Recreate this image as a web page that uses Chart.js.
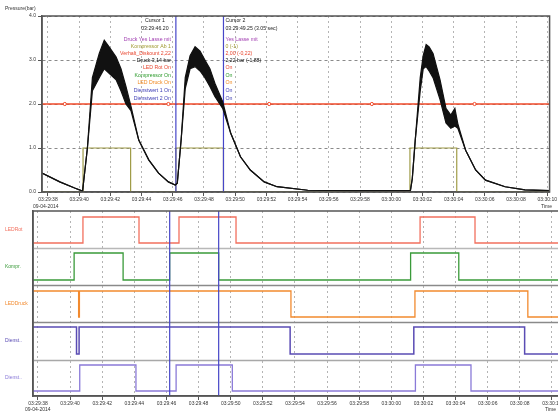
<!DOCTYPE html>
<html><head><meta charset="utf-8">
<script src="https://cdn.jsdelivr.net/npm/chart.js@4.4.0/dist/chart.umd.min.js"></script>
<style>
html,body{margin:0;padding:0;background:#fff;overflow:hidden;width:558px;height:416px;}
#c1{position:absolute;left:0;top:0;}
#c2{position:absolute;left:0;top:205px;}
</style></head><body>
<canvas id="c1" width="558" height="212"></canvas>
<canvas id="c2" width="572" height="211"></canvas>
<script>
// ---------- data ----------
const tickSeconds = [0,2,4,6,8,10,12,14,16,18,20,22,24,26,28,30,32];
const tickLabels = ["03:29:38","03:29:40","03:29:42","03:29:44","03:29:46","03:29:48","03:29:50","03:29:52","03:29:54","03:29:56","03:29:58","03:30:00","03:30:02","03:30:04","03:30:06","03:30:08","03:30:10"];
const dateLabel = "09-04-2014";
const yTicks = [0,1,2,3,4];

const pressureTime = [-0.38,0.76,1.71,2.22,2.53,2.85,3.29,3.61,3.92,4.37,4.68,5.0,5.32,5.82,6.46,7.09,7.72,8.16,8.29,8.54,8.8,9.11,9.43,9.75,10.06,10.38,10.7,11.2,11.71,12.34,12.97,13.86,14.68,16.65,19.75,23.23,23.35,23.54,23.86,24.05,24.24,24.43,24.68,25.13,25.51,25.82,26.08,26.27,26.77,27.41,28.04,29.3,30.57,32.15];
const pressureMax = [0.43,0.23,0.09,0.02,1.0,2.6,3.15,3.45,3.3,3.07,2.8,2.4,1.95,1.18,0.73,0.43,0.23,0.16,0.2,1.2,2.6,3.1,3.3,3.2,3.0,2.8,2.47,2.05,1.34,0.8,0.5,0.23,0.12,0.04,0.03,0.03,0.3,1.18,2.6,3.1,3.35,3.3,3.15,2.55,1.9,1.75,1.9,1.55,0.95,0.5,0.27,0.12,0.05,0.03];
const pressureMin = [0.43,0.23,0.09,0.02,1.0,2.3,2.6,2.8,2.7,2.55,2.3,2.0,1.85,1.18,0.73,0.43,0.23,0.16,0.2,1.2,2.35,2.8,2.85,2.75,2.6,2.4,2.17,1.9,1.34,0.8,0.5,0.23,0.12,0.04,0.03,0.03,0.3,1.18,2.3,2.8,2.85,2.75,2.6,2.1,1.57,1.45,1.5,1.45,0.95,0.5,0.27,0.12,0.05,0.03];

const limitValue = 2.0;
const limitMarkerTimes = [1.08,7.72,14.18,20.76,27.34];
const cursorTimes = [8.2, 11.25];

const laneNames = ["LEDRot","Kompr.","LEDDruck","Dienst..","Dienst.."];
const ledRotTimes    = [2.8,6.29,8.78,12.33,23.79,27.21];
const ledRotStates   = [1,0,1,0,1,0];
const kompTimes      = [2.25,5.3,8.2,11.25,23.2,26.2];
const kompStates     = [1,0,1,0,1,0];
const ledDruckTimes  = [2.53,2.58,15.75,23.47,30.5];
const ledDruckStates = [0,1,0,1,0];
const dienst1Times   = [2.40,2.56,15.7,23.4,30.3];
const dienst1States  = [0,1,0,1,0];
const dienst2Times   = [2.6,6.1,8.6,12.1,23.5,26.96];
const dienst2States  = [1,0,1,0,1,0];
const initialStates  = [0,0,1,1,0];

const cursor1Lines = ["Cursor 1","03:29:46.20","Druck Yes Lasse mit","Kompressor Ab 1","Verhalt_Diskount 2,22","Druck 3,14 bar","LED Rot On","Kompressor On","LED Druck On","Dienstwert 1 On","Dienstwert 2 On"];
const cursor2Lines = ["Cursor 2","03:29:49.25 (3.05 sec)","Yes Lasse mit","0 (-1)","2,00 (-0,22)","2,22 bar (-1,88)","On","On","On","On","On"];

// ---------- styles / layout ----------
const FONT = "'Liberation Sans', Arial, sans-serif";
const textColors = ["#222","#222","#a03cb0","#a09a30","#e8452e","#111","#e8452e","#2a9a2a","#f0881e","#3c3cb4","#3c3cb4"];
const textY = [21,29,40,47,54,61,68,76,83,91,99];
const laneColors = ["#f2705e","#3a9a3a","#f28a2e","#5a4cb4","#8a7ad8"];
const laneLow  = [15.3,11.6,7.9,4.2,0.5];
const laneHigh = [17.9,14.3,10.5,6.9,3.1];
const separators = [[14.8,"#b8b8b8"],[11.1,"#8a8a8a"],[7.4,"#8a8a8a"],[3.6,"#a8a8a8"]];
const X1 = [-0.38, 32.15];
const X2 = [-0.31, 33.0];
const CURSOR_COLOR = "#4646c8";

function stepPoints(times, states, init, lo, hi, xr){
  const lvl = s => lo + s*(hi-lo);
  let cur = init;
  const pts = [{x:xr[0], y:lvl(cur)}];
  times.forEach((t,i)=>{ pts.push({x:t,y:lvl(cur)}); cur = states[i]; pts.push({x:t,y:lvl(cur)}); });
  pts.push({x:xr[1], y:lvl(cur)});
  return pts;
}

const framePlugin = {
  id:'frame',
  afterDatasetsDraw(chart){
    const {ctx, chartArea:a} = chart;
    ctx.save(); ctx.strokeStyle='#555'; ctx.lineWidth=1.5;
    ctx.strokeRect(a.left, a.top, a.right-a.left, a.bottom-a.top);
    ctx.restore();
  }
};

// ---------- top chart ----------
const topPlugin = {
  id:'topText',
  afterDraw(chart){
    const ctx = chart.ctx;
    ctx.save();
    ctx.textBaseline='middle';
    ctx.font = "5px " + FONT;
    ctx.fillStyle='#333'; ctx.textAlign='left';
    ctx.fillText("Pressure(bar)", 5, 9);
    ctx.fillText(dateLabel, 33, 207);
    ctx.fillText("Time", 541, 207);
    const xs = chart.scales.x;
    const c1 = xs.getPixelForValue(cursorTimes[0]);
    const c2 = xs.getPixelForValue(cursorTimes[1]);
    ctx.font = "5.2px " + FONT;
    cursor1Lines.forEach((s,i)=>{
      ctx.fillStyle = textColors[i];
      if (i<2){ ctx.textAlign='center'; ctx.fillText(s, c1-21, textY[i]); }
      else { ctx.textAlign='right'; ctx.fillText(s, c1-5, textY[i]); }
    });
    ctx.textAlign='left';
    cursor2Lines.forEach((s,i)=>{ ctx.fillStyle = textColors[i]; ctx.fillText(s, c2+2, textY[i]); });
    ctx.restore();
  }
};

const topDatasets = [
  {label:'Druck max', data: pressureTime.map((t,i)=>({x:t,y:pressureMax[i]})), borderColor:'#111', borderWidth:1.2, pointRadius:0, fill:false},
  {label:'Druck min', data: pressureTime.map((t,i)=>({x:t,y:pressureMin[i]})), borderColor:'#111', borderWidth:1.2, pointRadius:0, fill:'-1', backgroundColor:'#111'},
  ...cursorTimes.map((c,i)=>({label:'Cursor '+(i+1), data:[{x:c,y:0},{x:c,y:4}], borderColor:CURSOR_COLOR, borderWidth:1.2, pointRadius:0})),
  {label:'Kompressor', data: stepPoints(kompTimes, kompStates, initialStates[1], 0, 1, X1), borderColor:'#a09c48', borderWidth:1.2, pointRadius:0},
  {label:'Limit marks', data: limitMarkerTimes.map(t=>({x:t,y:limitValue})), showLine:false, pointRadius:1.6, pointBackgroundColor:'#fff', pointBorderColor:'#f04a2a', pointBorderWidth:1},
  {label:'Limit', data:[{x:X1[0],y:limitValue},{x:X1[1],y:limitValue}], borderColor:'#f04a2a', borderWidth:1.4, pointRadius:0}
];

new Chart(document.getElementById('c1'), {
  type:'line',
  data:{datasets: topDatasets},
  options:{
    responsive:false, animation:false, parsing:false, normalized:true,
    layout:{padding:{top:16,right:2,left:0,bottom:0}},
    plugins:{legend:{display:false}, tooltip:{enabled:false}},
    elements:{line:{tension:0}},
    scales:{
      x:{type:'linear', min:X1[0], max:X1[1],
        afterBuildTicks: s => { s.ticks = tickSeconds.map(v=>({value:v})); },
        afterFit: s => { s.height = 20; },
        ticks:{callback:(v,i)=>tickLabels[i], font:{size:5, family:FONT}, color:'#333', padding:1, maxRotation:0, autoSkip:false},
        grid:{color:'#b4b4b4', tickColor:'#555', tickLength:4, tickBorderDash:[]},
        border:{color:'#555', width:1.5, dash:[2,3]}
      },
      y:{type:'linear', min:0, max:4,
        afterBuildTicks: s => { s.ticks = yTicks.map(v=>({value:v})); },
        afterFit: s => { s.width = 42; },
        ticks:{callback:v=>v.toFixed(1), font:{size:5, family:FONT}, color:'#333', padding:2},
        grid:{color:'#8a8a8a', tickColor:'#555', tickLength:4, tickBorderDash:[]},
        border:{color:'#555', width:1.5, dash:[3,3]}
      }
    }
  },
  plugins:[framePlugin, topPlugin]
});

// ---------- bottom chart ----------
const laneTimes = [ledRotTimes, kompTimes, ledDruckTimes, dienst1Times, dienst2Times];
const laneStates = [ledRotStates, kompStates, ledDruckStates, dienst1States, dienst2States];
const laneWidths = [1.3,1.3,1.3,1.5,1.3];

const bottomPlugin = {
  id:'bottomText',
  beforeDatasetsDraw(chart){
    const {ctx, chartArea:a} = chart; const ys = chart.scales.y;
    ctx.save();
    separators.forEach(([v,c])=>{
      const y = Math.round(ys.getPixelForValue(v))+0.5;
      ctx.strokeStyle=c; ctx.lineWidth=1.3; ctx.beginPath(); ctx.moveTo(a.left,y); ctx.lineTo(a.right,y); ctx.stroke();
    });
    ctx.restore();
  },
  afterDraw(chart){
    const ctx = chart.ctx;
    ctx.save(); ctx.textBaseline='middle'; ctx.textAlign='left';
    ctx.font = "5px " + FONT; ctx.fillStyle='#333';
    ctx.fillText(dateLabel, 25, 205);
    ctx.fillText("Time", 545, 205);
    ctx.restore();
  }
};

const bottomDatasets = [
  ...cursorTimes.map((c,i)=>({label:'Cursor '+(i+1), data:[{x:c,y:0},{x:c,y:18.5}], borderColor:CURSOR_COLOR, borderWidth:1.2, pointRadius:0})),
  ...laneNames.map((n,i)=>({label:n, data: stepPoints(laneTimes[i], laneStates[i], initialStates[i], laneLow[i], laneHigh[i], X2), borderColor:laneColors[i], borderWidth:laneWidths[i], pointRadius:0}))
];

new Chart(document.getElementById('c2'), {
  type:'line',
  data:{datasets: bottomDatasets},
  options:{
    responsive:false, animation:false, parsing:false, normalized:true,
    layout:{padding:{top:6,right:4,left:5,bottom:0}},
    plugins:{legend:{display:false}, tooltip:{enabled:false}},
    elements:{line:{tension:0}},
    scales:{
      x:{type:'linear', min:X2[0], max:X2[1],
        afterBuildTicks: s => { s.ticks = tickSeconds.map(v=>({value:v})); },
        afterFit: s => { s.height = 20; },
        ticks:{callback:(v,i)=>tickLabels[i], font:{size:5, family:FONT}, color:'#333', padding:1, maxRotation:0, autoSkip:false},
        grid:{color:'#b4b4b4', tickColor:'#555', tickLength:4, tickBorderDash:[]},
        border:{color:'#555', width:1.5, dash:[2,3]}
      },
      y:{type:'linear', min:0, max:18.5,
        afterBuildTicks: s => { s.ticks = laneLow.map((lo,i)=>({value:(lo+laneHigh[i])/2})); },
        afterFit: s => { s.width = 28; },
        ticks:{callback:(v,i)=>laneNames[i], font:{size:5, family:FONT}, color:c=>laneColors[c.index], padding:3, crossAlign:'far'},
        grid:{display:false},
        border:{color:'#555', width:1.5}
      }
    }
  },
  plugins:[framePlugin, bottomPlugin]
});
</script>
</body></html>
